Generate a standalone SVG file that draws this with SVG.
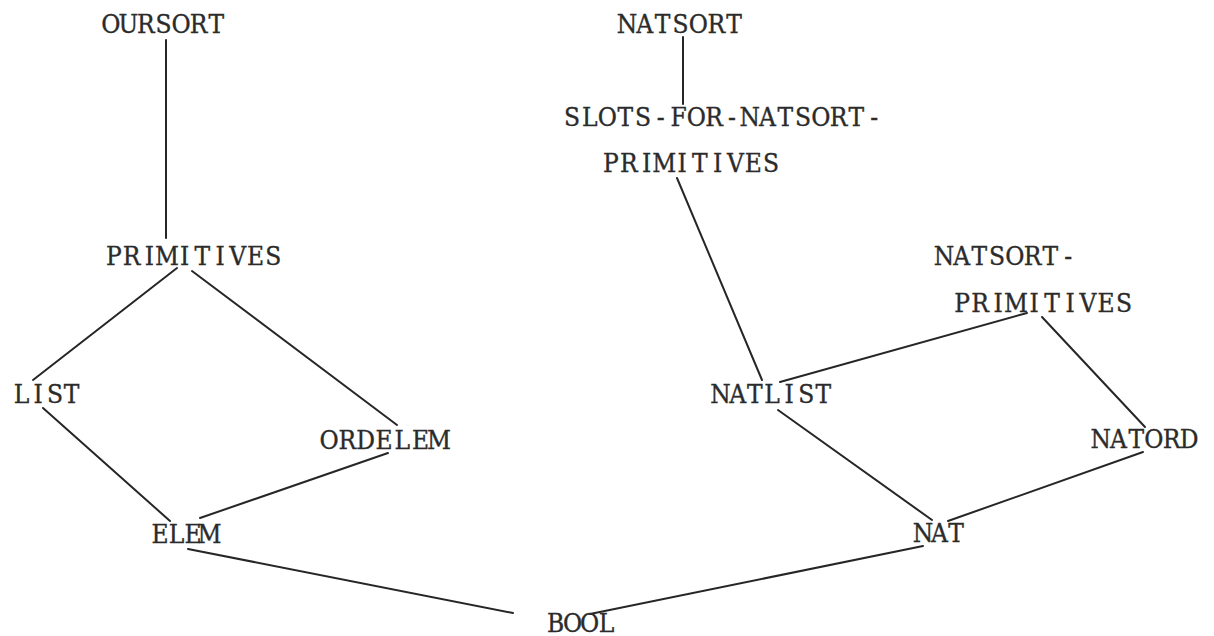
<svg xmlns="http://www.w3.org/2000/svg" width="1214" height="636" viewBox="0 0 1214 636">
  <style>
    /* typewriter-style labels: every glyph centred in its own fixed-pitch cell */
    .lbl { font-family: "DejaVu Serif Condensed", "DejaVu Serif", "Liberation Serif", serif; font-stretch: condensed; font-size: 26px; fill: #2b2b2b; stroke: #2b2b2b; stroke-width: 0.35; text-anchor: middle; }
    .edge { stroke: #262626; stroke-width: 2; fill: none; stroke-linecap: round; }
  </style>
  <rect width="1214" height="636" fill="#ffffff"/>

  <!-- connectors -->
  <g id="connectors">
    <line class="edge" x1="166" y1="40" x2="166" y2="238"/>
    <line class="edge" x1="177" y1="268" x2="33" y2="380"/>
    <line class="edge" x1="192" y1="271" x2="397" y2="425"/>
    <line class="edge" x1="43" y1="408" x2="170" y2="521"/>
    <line class="edge" x1="388" y1="453" x2="200" y2="518"/>
    <line class="edge" x1="188" y1="549" x2="513" y2="613"/>
    <line class="edge" x1="923" y1="546" x2="590" y2="614"/>
    <line class="edge" x1="683" y1="37" x2="683" y2="104"/>
    <line class="edge" x1="677" y1="178" x2="762" y2="380"/>
    <line class="edge" x1="1027" y1="313" x2="780" y2="382"/>
    <line class="edge" x1="1042" y1="317" x2="1145" y2="427"/>
    <line class="edge" x1="778" y1="410" x2="932" y2="520"/>
    <line class="edge" x1="1143" y1="452" x2="948" y2="521"/>
  </g>

  <!-- nodes -->
  <g id="oursort"><text class="lbl" x="110.8 128.4 145.9 163.5 181.1 198.6 216.2" y="33">OURSORT</text></g>
  <g id="primitives"><text class="lbl" x="113.9 131.6 149.3 167 184.7 202.4 220.1 237.8 255.5 273.2" y="265">PRIMITIVES</text></g>
  <g id="list"><text class="lbl" x="21.4 38.1 54.9 71.6" y="403">LIST</text></g>
  <g id="ordelem"><text class="lbl" x="329.1 347.4 365.7 384 402.3 420.6 438.9" y="449">ORDELEM</text></g>
  <g id="elem"><text class="lbl" x="160 176.5 193 209.5" y="543">ELEM</text></g>
  <g id="bool"><text class="lbl" x="555.5 572.5 589.5 606.5" y="632">BOOL</text></g>
  <g id="natsort"><text class="lbl" x="626.9 644.8 662.6 680.5 698.4 716.2 734.1" y="33">NATSORT</text></g>
  <g id="slots-for-natsort-primitives">
    <text class="lbl" x="571.9 589.7 607.4 625.2 643 660.8 678.6 696.3 714.1 731.9 749.7 767.5 785.2 803 820.8 838.6 856.4 874.1" y="126">SLOTS-FOR-NATSORT-</text>
    <text class="lbl" x="610.9 628.7 646.5 664.3 682.1 699.9 717.7 735.5 753.3 771.1" y="172">PRIMITIVES</text>
  </g>
  <g id="natsort-primitives">
    <text class="lbl" x="943.9 961.6 979.4 997.1 1014.9 1032.6 1050.4 1068.1" y="265">NATSORT-</text>
    <text class="lbl" x="962 980 998 1016 1034 1052 1070 1088 1106 1124" y="312">PRIMITIVES</text>
  </g>
  <g id="natlist"><text class="lbl" x="720.6 737.7 754.9 772 789.1 806.3 823.4" y="403">NATLIST</text></g>
  <g id="natord"><text class="lbl" x="1100.8 1118.5 1136.2 1153.8 1171.5 1189.2" y="448">NATORD</text></g>
  <g id="nat"><text class="lbl" x="923 939.5 956" y="542">NAT</text></g>
</svg>
